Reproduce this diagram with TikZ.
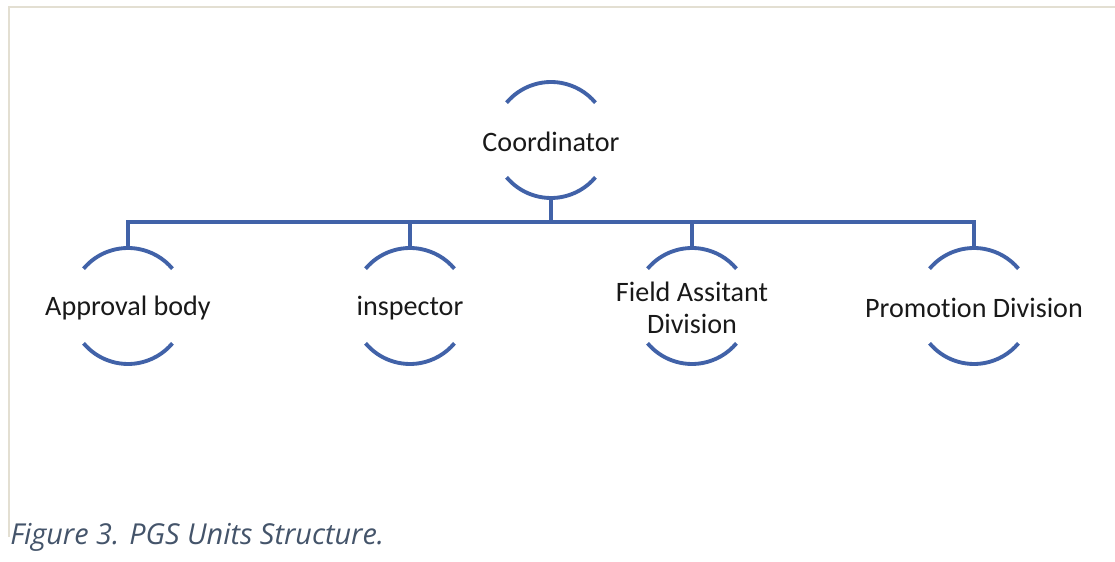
\documentclass[tikz,border=0pt]{standalone}
\usepackage{fontspec}
\setmainfont{Carlito}[Ligatures=NoCommon]
\newfontfamily\captionfont{Open Sans}
\usepackage{xcolor}
\usetikzlibrary{positioning}
\definecolor{unitblue}{RGB}{65,98,168}
\definecolor{framebeige}{RGB}{227,223,210}
\definecolor{captiongray}{RGB}{68,84,106}

\tikzset{
  unit/.style={circle, minimum size=2.32cm, inner sep=0pt, outer sep=0pt},
  every label/.style={font=\fontsize{16}{18.5}\selectfont, align=center, text=black!90, inner sep=0pt, yshift=-1pt},
  link/.style={draw=unitblue, line width=2.2pt},
  frameline/.style={draw=framebeige, line width=1.2pt}
}

\begin{document}
\begin{tikzpicture}[node distance=3.32cm]
  \useasboundingbox (0,0) rectangle (22.3,-11.24);
  \draw[frameline] (0.18,-10.74) -- (0.18,-0.14) -- (22.3,-0.14);

  \node[unit, label=center:Coordinator] (coord) at (11.02,-2.80) {};
  \node[unit, label=center:Approval body] (approval) at (2.56,-6.12) {};
  \node[unit, label=center:inspector] (inspector) [right=of approval] {};
  \node[unit, label={center:Field Assitant\\Division}] (field) [right=of inspector] {};
  \node[unit, label=center:Promotion Division] (promo) [right=of field] {};

  \foreach \u in {coord,approval,inspector,field,promo} {
    \draw[link] (\u.140) arc[start angle=140, end angle=40, radius=1.16cm];
    \draw[link] (\u.220) arc[start angle=220, end angle=320, radius=1.16cm];
  }
  \foreach \u in {approval,inspector,field,promo}
    \draw[link] (coord.south) -- ++(0,-0.48) -| (\u.north);

  \node[font=\captionfont\itshape\fontsize{16.4}{19}\selectfont, text=captiongray, anchor=base west, inner sep=0pt] (caption) at (0.2,-10.90) {Figure 3. PGS Units Structure.};
\end{tikzpicture}
\end{document}
